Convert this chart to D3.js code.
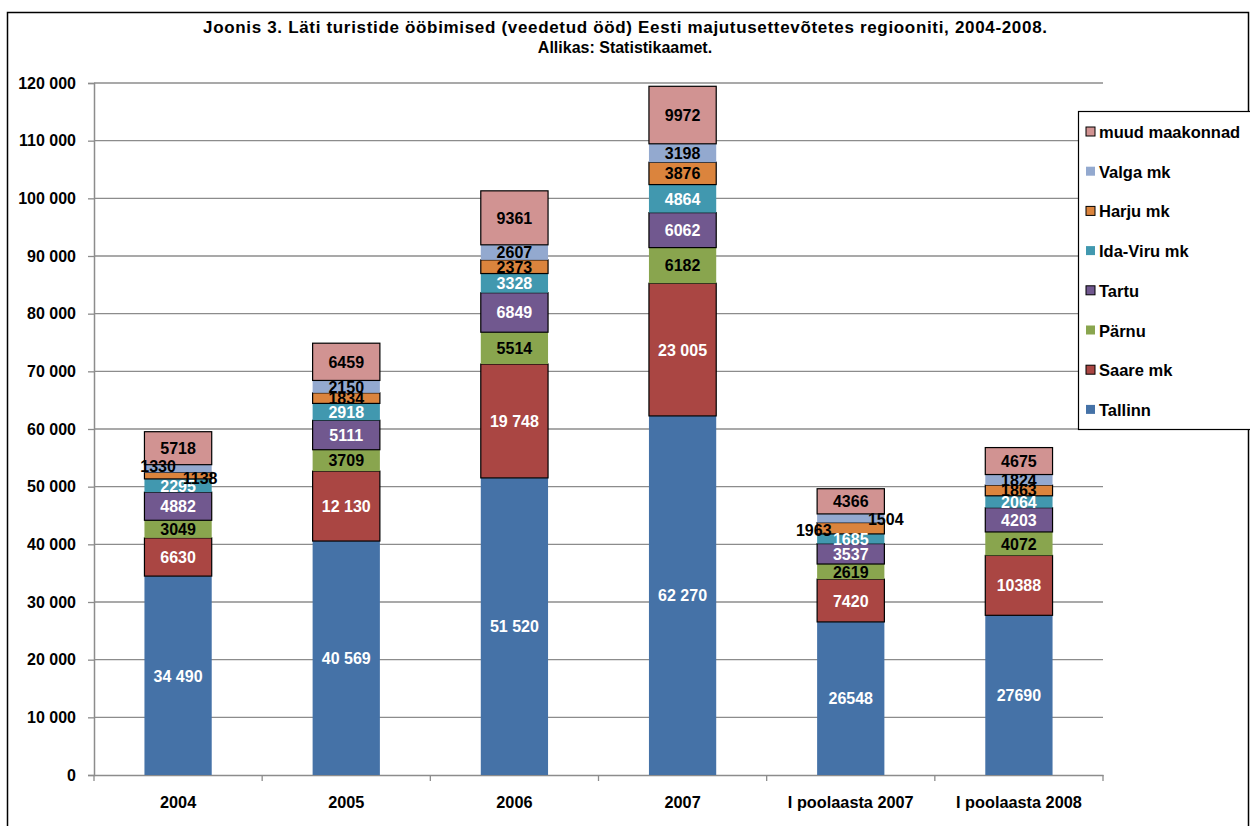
<!DOCTYPE html>
<html><head><meta charset="utf-8">
<script src="https://cdn.jsdelivr.net/npm/d3@7"></script>
<style>body{margin:0;background:#fff;} svg{display:block;font-family:"Liberation Sans",Arial,sans-serif;}</style>
</head><body>
<svg id="c" width="1250" height="826"></svg>
<script>
const categories = ["2004","2005","2006","2007","I poolaasta 2007","I poolaasta 2008"];
const seriesNames = ["Tallinn","Saare mk","Pärnu","Tartu","Ida-Viru mk","Harju mk","Valga mk","muud maakonnad"];
const tallinn = [34490,40569,51520,62270,26548,27690];
const saare   = [6630,12130,19748,23005,7420,10388];
const parnu   = [3049,3709,5514,6182,2619,4072];
const tartu   = [4882,5111,6849,6062,3537,4203];
const idaViru = [2295,2918,3328,4864,1685,2064];
const harju   = [1138,1834,2373,3876,1963,1863];
const valga   = [1330,2150,2607,3198,1504,1824];
const muud    = [5718,6459,9361,9972,4366,4675];
const yTicks  = [0,10000,20000,30000,40000,50000,60000,70000,80000,90000,100000,110000,120000];
const titleLines = ["Joonis 3. Läti turistide ööbimised (veedetud ööd) Eesti majutusettevõtetes regiooniti, 2004-2008.","Allikas: Statistikaamet."];

const seriesValues = [tallinn,saare,parnu,tartu,idaViru,harju,valga,muud];
const colors = ["#4572A7","#AA4643","#89A54E","#71588F","#4198AF","#DB843D","#93A9CF","#D19392"];
const bordered = [false,true,false,true,false,true,false,true];
const labelColor = ["#fff","#fff","#000","#fff","#fff","#000","#000","#000"];

const svg = d3.select("#c");
const M = {left:94, right:1103, top:83, bottom:775};

svg.append("rect").attr("x",7.5).attr("y",12.5).attr("width",1241).attr("height",830)
  .attr("fill","none").attr("stroke","#000").attr("stroke-width",1.5);

svg.selectAll("text.title").data(titleLines).enter().append("text")
  .attr("x",625).attr("y",(d,i)=>33+i*20).attr("text-anchor","middle")
  .attr("font-weight","bold").attr("font-size",(d,i)=>i===0?17:16)
  .each(function(d,i){ if(i===0) d3.select(this).attr("textLength",844).attr("lengthAdjust","spacing"); })
  .text(d=>d);

const x = d3.scaleBand().domain(categories).range([M.left,M.right]).paddingInner(0).paddingOuter(0);
const y = d3.scaleLinear().domain([0,120000]).range([M.bottom,M.top]);

// gridlines
svg.append("g").selectAll("line").data(yTicks.filter(t=>t>0)).enter().append("line")
  .attr("x1",M.left).attr("x2",M.right).attr("y1",d=>y(d)).attr("y2",d=>y(d))
  .attr("stroke","#8c8c8c").attr("stroke-width",1.3);

const fmtSpace = d=>d3.format(",")(d).replace(/,/g," ");

// axes
const yAxis = d3.axisLeft(y).tickValues(yTicks).tickSize(6).tickPadding(12).tickFormat(fmtSpace);
const gy = svg.append("g").attr("transform",`translate(${M.left},0)`).call(yAxis);
gy.select(".domain").attr("stroke","#8c8c8c").attr("stroke-width",1.5);
gy.selectAll(".tick line").attr("stroke","#8c8c8c").attr("stroke-width",1.3);
gy.selectAll("text").attr("font-size",16).attr("font-weight","bold").attr("fill","#000")
  .attr("font-family","Liberation Sans, Arial, sans-serif");

const xAxis = d3.axisBottom(x).tickSize(0).tickPadding(21);
const gx = svg.append("g").attr("transform",`translate(0,${M.bottom})`).call(xAxis);
gx.select(".domain").attr("stroke","#8c8c8c").attr("stroke-width",1.5);
gx.selectAll("text").attr("font-size",16.3).attr("font-weight","bold").attr("fill","#000")
  .attr("font-family","Liberation Sans, Arial, sans-serif");
// category boundary ticks
const bounds = categories.map(c=>x(c)).concat([M.right]);
gx.selectAll("line.bt").data(bounds).enter().append("line").attr("class","bt")
  .attr("x1",d=>d).attr("x2",d=>d).attr("y1",0).attr("y2",6)
  .attr("stroke","#8c8c8c").attr("stroke-width",1.3);

// stacked data
const table = categories.map((c,i)=>{const o={cat:c}; seriesNames.forEach((s,k)=>o[s]=seriesValues[k][i]); return o;});
const stack = d3.stack().keys(seriesNames)(table);
const barW = x.bandwidth()*0.4;

const fmtLabel = (v,ci)=> (ci<4 && v>=10000) ? fmtSpace(v) : String(v);
// manual label nudges (as in the original, where small segments overlapped)
const nudge = {"6-0":[-20,-3],"5-0":[22,2],"5-4":[-37,2],"6-4":[35,1]};

stack.forEach((layer,k)=>{
  const g = svg.append("g");
  g.selectAll("rect").data(layer).enter().append("rect")
    .attr("x",(d,i)=>x(categories[i])+(x.bandwidth()-barW)/2)
    .attr("width",barW)
    .attr("y",d=>y(d[1])).attr("height",d=>y(d[0])-y(d[1]))
    .attr("fill",colors[k])
    .attr("stroke",bordered[k]?"#000":"none").attr("stroke-width",1.2);
});
stack.forEach((layer,k)=>{
  const g = svg.append("g");
  g.selectAll("text").data(layer).enter().append("text")
    .attr("x",(d,i)=>x(categories[i])+x.bandwidth()/2+((nudge[k+"-"+i]||[0,0])[0]))
    .attr("y",(d,i)=>(y(d[0])+y(d[1]))/2+6+((nudge[k+"-"+i]||[0,0])[1]))
    .attr("text-anchor","middle").attr("font-weight","bold").attr("font-size",16)
    .attr("fill",labelColor[k])
    .text((d,i)=>fmtLabel(seriesValues[k][i],i));
});

// legend
const lg = svg.append("g");
lg.append("rect").attr("x",1078.5).attr("y",111.5).attr("width",200).attr("height",318)
  .attr("fill","#fff").attr("stroke","#000").attr("stroke-width",1.2);
const legendOrder = seriesNames.map((s,k)=>k).reverse();
legendOrder.forEach((k,j)=>{
  const cy = 132 + j*39.7;
  lg.append("rect").attr("x",1086).attr("y",cy-5).attr("width",9).attr("height",9)
    .attr("fill",colors[k]).attr("stroke",bordered[k]?"#000":"none").attr("stroke-width",1);
  lg.append("text").attr("x",1099).attr("y",cy+6).attr("font-weight","bold").attr("font-size",16.5)
    .text(seriesNames[k]);
});
</script>
</body></html>
